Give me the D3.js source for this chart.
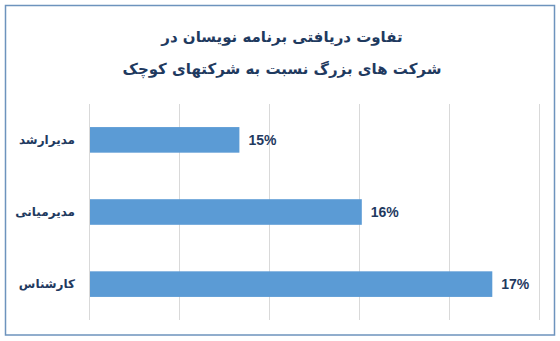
<!DOCTYPE html>
<html lang="fa">
<head>
  <meta charset="UTF-8" />
  <title>تفاوت دریافتی برنامه نویسان</title>
  <script src="https://d3js.org/d3.v7.min.js"></script>
  <style>
    body { margin: 0; background: #fff; }
    svg { display: block; }
  </style>
</head>
<body>
  <div id="chart"></div>
  <script>
    // data
    const categories = ["مدیرارشد", "مدیرمیانی", "کارشناس"];
    const values = [0.1466, 0.1602, 0.1747];
    const xTicks = [0.13, 0.14, 0.15, 0.16, 0.17, 0.18];
    const titleLines = ["تفاوت دریافتی برنامه نویسان در", "شرکت های بزرگ نسبت به شرکتهای کوچک"];

    const width = 560, height = 341;
    const margin = { top: 104, left: 90, right: 20, bottom: 21 };
    const textColor = "#1f3a5f";

    const svg = d3.select("#chart").append("svg")
      .attr("width", width)
      .attr("height", height);

    svg.append("rect")
      .attr("x", 5.5).attr("y", 5.5)
      .attr("width", 549).attr("height", 329.5)
      .attr("fill", "#fff")
      .attr("stroke", "#6d93bd")
      .attr("stroke-width", 1.5);

    svg.selectAll("text.title")
      .data(titleLines)
      .enter()
      .append("text")
      .attr("class", "title")
      .attr("x", 282)
      .attr("y", (d, i) => 42 + i * 32)
      .attr("text-anchor", "middle")
      .attr("font-family", "DejaVu Sans, sans-serif")
      .attr("font-weight", "bold")
      .attr("font-size", 15)
      .attr("fill", textColor)
      .text(d => d);

    const x = d3.scaleLinear().domain([0.13, 0.18]).range([margin.left, 540]);
    const y = d3.scaleBand().domain(categories)
      .range([margin.top, height - margin.bottom])
      .paddingInner(0.645).paddingOuter(0.32);

    // gridlines
    svg.append("g")
      .selectAll("line")
      .data(xTicks)
      .enter()
      .append("line")
      .attr("x1", d => Math.round(x(d)) - 0.5)
      .attr("x2", d => Math.round(x(d)) - 0.5)
      .attr("y1", margin.top)
      .attr("y2", height - margin.bottom)
      .attr("stroke", "#d9d9d9")
      .attr("stroke-width", 1);

    // bars
    svg.append("g")
      .selectAll("rect")
      .data(values)
      .enter()
      .append("rect")
      .attr("x", x(0.13))
      .attr("y", (d, i) => y(categories[i]))
      .attr("width", d => x(d) - x(0.13))
      .attr("height", y.bandwidth())
      .attr("fill", "#5b9bd5");

    // value labels
    const fmt = d3.format(".0%");
    svg.append("g")
      .selectAll("text")
      .data(values)
      .enter()
      .append("text")
      .attr("x", d => x(d) + 9)
      .attr("y", (d, i) => y(categories[i]) + y.bandwidth() / 2)
      .attr("dy", "0.36em")
      .attr("font-family", "Liberation Sans, Arial, sans-serif")
      .attr("font-weight", "bold")
      .attr("font-size", 14)
      .attr("fill", textColor)
      .text(d => fmt(d));

    // category labels
    svg.append("g")
      .selectAll("text")
      .data(categories)
      .enter()
      .append("text")
      .attr("x", 75)
      .attr("y", d => y(d) + y.bandwidth() / 2)
      .attr("dy", "0.35em")
      .attr("text-anchor", "end")
      .attr("font-family", "DejaVu Sans, sans-serif")
      .attr("font-weight", "bold")
      .attr("font-size", 12)
      .attr("fill", textColor)
      .text(d => d);
  </script>
</body>
</html>
